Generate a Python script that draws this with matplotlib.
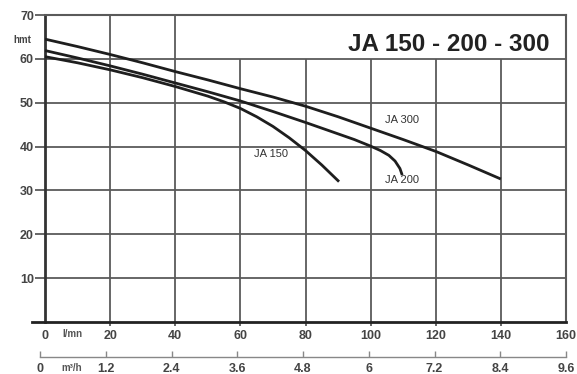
import matplotlib
matplotlib.use("Agg")
import matplotlib.pyplot as plt

# --- data ---
flow_lmn_ticks = [0, 20, 40, 60, 80, 100, 120, 140, 160]
flow_m3h_ticks = [0, 1.2, 2.4, 3.6, 4.8, 6, 7.2, 8.4, 9.6]
head_ticks = [10, 20, 30, 40, 50, 60, 70]

ja300_q = [0, 10, 20, 30, 40, 50, 60, 70, 80, 90, 100, 110, 120, 130, 140]
ja300_h = [64.5, 62.8, 61.0, 59.1, 57.1, 55.2, 53.2, 51.3, 49.2, 46.8, 44.2,
           41.6, 38.9, 35.8, 32.6]

ja200_q = [0, 10, 20, 30, 40, 50, 60, 70, 80, 90, 95, 100, 103, 105.6, 107.5,
           109, 109.7]
ja200_h = [61.9, 60.2, 58.4, 56.5, 54.5, 52.5, 50.4, 48.0, 45.5, 42.9, 41.6,
           40.1, 39.1, 38.0, 36.7, 35.0, 33.5]

ja150_q = [0, 10, 20, 30, 40, 50, 55, 60, 65, 70, 75, 80, 85, 90.3]
ja150_h = [60.5, 59.1, 57.5, 55.7, 53.7, 51.5, 50.2, 48.7, 46.8, 44.6, 42.0,
           39.1, 35.8, 32.0]

labels = [("JA 300", 109.5, 46.0), ("JA 150", 69.5, 38.3), ("JA 200", 109.5, 32.4)]

W, H = 577, 374
plt.rcParams['font.family'] = ['Liberation Sans', 'DejaVu Sans']
fig = plt.figure(figsize=(W / 100, H / 100), dpi=100)
fig.patch.set_facecolor("white")

# main axes: x 0..160 -> px 45..566, y 0..70 -> px 322..15
ax = fig.add_axes([45 / W, 1 - 322 / H, 521 / W, 307 / H])
ax.set_xlim(0, 160)
ax.set_ylim(0, 70)

grid_c = "#5a5a5a"
# horizontal grid lines
for y in head_ticks[:-1]:
    ax.axhline(y, color=grid_c, lw=1.3, zorder=1)
# vertical grid lines (the title box cuts the ones right of 40)
for x in flow_lmn_ticks[1:-1]:
    top = 70 if x <= 40 else 60
    ax.vlines(x, -0.8, top, color=grid_c, lw=1.3, zorder=1, clip_on=False)

for q, h in [(ja300_q, ja300_h), (ja200_q, ja200_h), (ja150_q, ja150_h)]:
    ax.plot(q, h, color="#1e1e1e", lw=2.0, solid_capstyle="butt",
            solid_joinstyle="round", zorder=3)

for txt, x, y in labels:
    ax.text(x, y, txt, fontsize=8, color="#333333", ha="center", va="center",
            zorder=4)

ax.text(124, 63.3, "JA 150 - 200 - 300", fontsize=17.5, fontweight="bold",
        color="#222222", ha="center", va="center", zorder=4)

# frame
for side in ["top", "right"]:
    ax.spines[side].set_color(grid_c)
    ax.spines[side].set_linewidth(1.5)
ax.spines["left"].set_color("#333333")
ax.spines["left"].set_linewidth(2.0)
ax.spines["bottom"].set_visible(False)
ax.axhline(0, xmin=-0.024, xmax=1, color="#222222", lw=2.0, clip_on=False,
           zorder=5)

ax.set_yticks(head_ticks)
ax.set_yticklabels([str(v) for v in head_ticks])
ax.tick_params(axis="y", length=7, width=1.3, color=grid_c, pad=1,
               labelsize=9, labelcolor="#444444")
ax.set_xticks(flow_lmn_ticks)
ax.set_xticklabels([str(v) for v in flow_lmn_ticks])
ax.tick_params(axis="x", length=0, pad=6, labelsize=9, labelcolor="#444444")
for lab in ax.get_xticklabels() + ax.get_yticklabels():
    lab.set_fontweight("bold")

fig.text(22 / W, 1 - 40 / H, "hmt", fontsize=7, fontweight="bold",
         color="#444444", ha="center", va="center")
fig.text(72 / W, 1 - 334 / H, "l/mn", fontsize=7, fontweight="bold",
         color="#555555", ha="center", va="center")

# second flow scale in m3/h: px 40..566 at y = 357
ax2 = fig.add_axes([40 / W, 1 - 357 / H, 526 / W, 0.001])
ax2.set_xlim(0, 9.6)
ax2.set_ylim(0, 1)
for side in ["top", "right", "left"]:
    ax2.spines[side].set_visible(False)
ax2.spines["bottom"].set_color("#888888")
ax2.spines["bottom"].set_linewidth(1.0)
ax2.set_yticks([])
ax2.set_xticks(flow_m3h_ticks)
ax2.set_xticklabels([f"{v:g}" for v in flow_m3h_ticks])
ax2.tick_params(axis="x", direction="in", length=4, width=1.0, color="#888888",
                pad=4, labelsize=9, labelcolor="#444444")
for lab in ax2.get_xticklabels():
    lab.set_fontweight("bold")
fig.text(72 / W, 1 - 368 / H, "m\u00b3/h", fontsize=7, fontweight="bold",
         color="#555555", ha="center", va="center")

fig.savefig("out.png", dpi=100, facecolor="white")
